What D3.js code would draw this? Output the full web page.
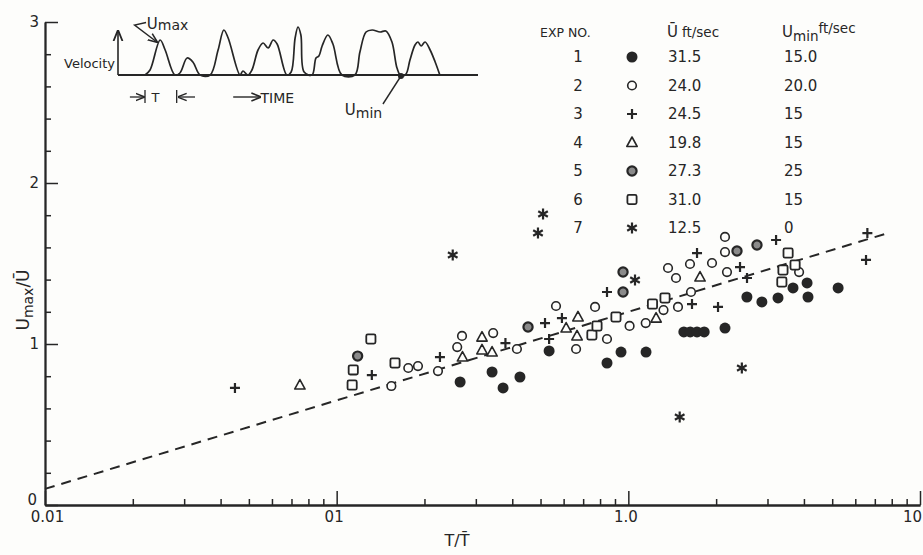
<!DOCTYPE html>
<html lang="en">
<head>
<meta charset="utf-8">
<title>Umax / U against T / T</title>
<script src="https://d3js.org/d3.v7.min.js"></script>
<style>
body { margin: 0; background: #fdfdfb; }
svg { display: block; }
text { font-family: "DejaVu Sans", sans-serif; fill: #262626; }
</style>
</head>
<body>
<div id="plot"></div>
<script>
var width = 923, height = 555;
var ink = "#262626";

// measured points, [T/T, Umax/U] for each experiment
var exp1 = [[0.265,0.764],[0.341,0.826],[0.372,0.727],[0.425,0.795],[0.535,0.957],[0.845,0.882],
  [0.944,0.950],[1.15,0.950],[1.55,1.075],[1.63,1.075],[1.72,1.075],[1.82,1.075],[2.145,1.099],
  [2.55,1.292],[2.87,1.261],[3.26,1.286],[3.67,1.348],[4.10,1.379],[4.13,1.292],[5.24,1.348]];
var exp2 = [[0.154,0.739],[0.176,0.851],[0.190,0.863],[0.2225,0.832],[0.259,0.981],[0.269,1.050],
  [0.344,1.068],[0.415,0.969],[0.565,1.236],[0.662,0.969],[0.769,1.230],[0.845,1.031],[1.01,1.112],
  [1.147,1.130],[1.32,1.211],[1.48,1.230],[1.64,1.323],[1.368,1.472],[1.457,1.410],[1.627,1.497],
  [1.936,1.503],[2.179,1.447],[2.145,1.665],[2.145,1.571],[3.85,1.447]];
var exp3 = [[0.0448,0.727],[0.132,0.807],[0.226,0.919],[0.379,1.006],[0.518,1.130],[0.535,1.031],
  [0.592,1.161],[0.845,1.323],[1.653,1.248],[2.03,1.230],[1.72,1.565],[2.415,1.478],[2.552,1.410],
  [3.21,1.646],[6.6,1.689],[6.53,1.522]];
var exp4 = [[0.0748,0.745],[0.27,0.919],[0.315,1.043],[0.315,0.963],[0.341,0.950],[0.612,1.099],
  [0.672,1.168],[0.667,1.050],[1.245,1.161],[1.761,1.416]];
var exp5 = [[0.118,0.925],[0.453,1.106],[0.959,1.447],[0.959,1.323],[2.358,1.578],[2.761,1.615]];
var exp6 = [[0.113,0.745],[0.114,0.839],[0.131,1.031],[0.1585,0.882],[0.75,1.056],[0.781,1.112],
  [0.907,1.168],[1.21,1.248],[1.336,1.286],[3.36,1.385],[3.39,1.460],[3.73,1.491],[3.53,1.565]];
var exp7 = [[0.25,1.553],[0.49,1.689],[0.51,1.807],[1.054,1.398],[2.45,0.851],[1.50,0.547]];
var series = [exp1, exp2, exp3, exp4, exp5, exp6, exp7];

// fitted dashed line
var fitX = [0.01, 7.6];
var fitY = [0.10, 1.684];

// legend table
var expNo = [1, 2, 3, 4, 5, 6, 7];
var uBar = ["31.5", "24.0", "24.5", "19.8", "27.3", "31.0", "12.5"];
var uMin = ["15.0", "20.0", "15", "15", "25", "15", "0"];

// axes
var xMajor = [0.01, 0.1, 1, 10];
var xLabels = ["0.01", "01", "1.0", "10"];
var yMajor = [0, 1, 2, 3];
var yLabels = ["0", "1", "2", "3"];

// sketch of the velocity record in the inset (time, velocity)
var waveT = [7.5,8.9,11.7,13.1,15.8,17.2,19.2,20.8,22.8,25.6,27.8,29.4,30.6,33.9,34.7,36.1,37.2,38.9,
  40.3,41.7,43.1,44.2,46.9,48.1,49.2,50,50.8,51.7,53.9,55,55.8,56.7,58.3,59.7,62.2,65.8,67.2,68.9,
  70.6,72.8,74.4,76.1,77.5,78.6,80,81.1,82.5,83.3,84.2,85.3,86.7,88.1,89.4];
var waveV = [0,0.1,0.7,0.5,0,0.04,0.34,0.26,0,0,0.5,0.9,0.74,0,0.08,0,0.1,0.5,
  0.64,0.54,0.7,0.62,0,0.06,0.74,0.96,0.8,0.06,0,0.34,0.38,0.58,0.8,0.62,0,0,0.46,0.86,
  0.9,0.86,0.88,0.66,0.14,-0.02,0.02,0.3,0.6,0.66,0.58,0.66,0.5,0.26,0];

var svg = d3.select("#plot").append("svg")
  .attr("width", width).attr("height", height)
  .style("background", "#fdfdfb");

var x = d3.scaleLog().domain([0.01, 10]).range([45, 920]);
var y = d3.scaleLinear().domain([0, 3]).range([505, 22]);

var defs = svg.append("defs");
defs.append("marker").attr("id", "arr")
  .attr("viewBox", "0 0 10 10").attr("refX", 9).attr("refY", 5)
  .attr("markerWidth", 7).attr("markerHeight", 7).attr("orient", "auto")
  .append("path").attr("d", "M0,1L10,5L0,9").attr("fill", "none")
  .attr("stroke", ink).attr("stroke-width", 1.6);

// x axis
var xMinor = [];
[0.01, 0.1, 1].forEach(function(d) {
  for (var k = 2; k <= 9; k++) xMinor.push(d * k);
});
var gx1 = svg.append("g").attr("transform", "translate(0,505)")
  .call(d3.axisBottom(x).tickValues(xMinor).tickSize(-6).tickSizeOuter(0).tickFormat(""));
var gx2 = svg.append("g").attr("transform", "translate(0,505)")
  .call(d3.axisBottom(x).tickValues(xMajor).tickSize(-14).tickSizeOuter(0).tickPadding(6)
    .tickFormat(function(d, i) { return xLabels[i]; }));
gx2.selectAll("text").attr("font-size", 15)
  .attr("dx", function(d, i) { return i == 0 ? 2 : (i == xMajor.length - 1 ? -8 : -3); });

// y axis
var yMinor = d3.range(1, 15).map(function(i) { return i * 0.2; })
  .filter(function(d) { return Math.abs(d - Math.round(d)) > 0.01; });
var gy1 = svg.append("g").attr("transform", "translate(45,0)")
  .call(d3.axisLeft(y).tickValues(yMinor).tickSize(-6).tickSizeOuter(0).tickFormat(""));
var gy2 = svg.append("g").attr("transform", "translate(45,0)")
  .call(d3.axisLeft(y).tickValues(yMajor).tickSize(-13).tickSizeOuter(0).tickPadding(6)
    .tickFormat(function(d, i) { return yLabels[i]; }));
gy2.selectAll("text").attr("font-size", 15)
  .attr("y", function(d) { return d == 0 ? -5 : 0; })
  .attr("dx", function(d) { return d == 0 ? -2 : 0; });

svg.selectAll(".domain").attr("stroke", ink).attr("stroke-width", 1.8);
svg.selectAll(".tick line").attr("stroke", ink).attr("stroke-width", 1.5);

// axis titles
var yt = svg.append("text").attr("transform", "translate(29,300) rotate(-90)")
  .attr("text-anchor", "middle").attr("font-size", 17);
yt.append("tspan").text("U");
yt.append("tspan").attr("dy", 4).attr("font-size", 14).text("max");
yt.append("tspan").attr("dy", -4).text("/\u016A");

svg.append("text").attr("x", 457).attr("y", 546).attr("text-anchor", "middle")
  .attr("font-size", 16).text("T/T\u0304");

// dashed fit
svg.append("path")
  .datum(d3.zip(fitX, fitY))
  .attr("d", d3.line().x(function(d) { return x(d[0]); }).y(function(d) { return y(d[1]); }))
  .attr("fill", "none").attr("stroke", ink).attr("stroke-width", 2)
  .attr("stroke-dasharray", "10,7");

// marker shapes per experiment
function drawSymbol(g, k) {
  if (k == 0) {
    g.append("circle").attr("r", 5.5).attr("fill", ink);
  } else if (k == 1) {
    g.append("circle").attr("r", 4.3).attr("fill", "#fdfdfb").attr("stroke", ink).attr("stroke-width", 1.6);
  } else if (k == 2) {
    g.append("path").attr("d", "M-5,0H5M0,-5V5").attr("stroke", ink).attr("stroke-width", 2.2);
  } else if (k == 3) {
    g.append("path").attr("d", "M0,-5.5L5.2,4L-5.2,4Z").attr("fill", "#fdfdfb")
      .attr("stroke", ink).attr("stroke-width", 1.6).attr("stroke-linejoin", "round");
  } else if (k == 4) {
    g.append("circle").attr("r", 4.6).attr("fill", "#8a8a8a").attr("stroke", ink).attr("stroke-width", 2.2);
  } else if (k == 5) {
    g.append("rect").attr("x", -4.6).attr("y", -4.6).attr("width", 9.2).attr("height", 9.2)
      .attr("rx", 1.5).attr("fill", "#fdfdfb").attr("stroke", ink).attr("stroke-width", 1.8);
  } else {
    g.append("path").attr("d", "M0,-5.5V5.5M-4.8,-2.75L4.8,2.75M-4.8,2.75L4.8,-2.75")
      .attr("stroke", ink).attr("stroke-width", 2.2);
  }
}

series.forEach(function(pts, k) {
  svg.append("g").selectAll("g")
    .data(pts)
    .enter().append("g")
    .attr("transform", function(d) { return "translate(" + x(d[0]) + "," + y(d[1]) + ")"; })
    .each(function() { drawSymbol(d3.select(this), k); });
});

// legend table
var row = d3.scalePoint().domain(expNo).range([57, 228]);
var lg = svg.append("g").attr("font-size", 15);
lg.append("text").attr("x", 540).attr("y", 37).attr("font-size", 12.5).text("EXP NO.");
var h2 = lg.append("text").attr("x", 667).attr("y", 37);
h2.append("tspan").text("\u016A");
h2.append("tspan").attr("dx", 4).attr("font-size", 13.5).text("ft/sec");
var h3 = lg.append("text").attr("x", 782).attr("y", 37);
h3.append("tspan").text("U");
h3.append("tspan").attr("dy", 4).attr("font-size", 13.5).text("min");
h3.append("tspan").attr("dy", -8).attr("font-size", 13.5).text("ft/sec");

expNo.forEach(function(n, i) {
  var yy = row(n);
  lg.append("text").attr("x", 578).attr("y", yy + 5).attr("text-anchor", "middle").text(n);
  drawSymbol(lg.append("g").attr("transform", "translate(632," + yy + ")"), i);
  lg.append("text").attr("x", 668).attr("y", yy + 5).text(uBar[i]);
  lg.append("text").attr("x", 784).attr("y", yy + 5).text(uMin[i]);
});

// inset sketch
var tx = d3.scaleLinear().domain([0, 100]).range([118, 478]);
var vy = d3.scaleLinear().domain([0, 1]).range([75, 25]);
var ins = svg.append("g");
ins.append("line").attr("x1", tx(0)).attr("x2", tx(100)).attr("y1", vy(0)).attr("y2", vy(0))
  .attr("stroke", ink).attr("stroke-width", 1.8);
ins.append("line").attr("x1", tx(0)).attr("x2", tx(0)).attr("y1", vy(0)).attr("y2", vy(0.88))
  .attr("stroke", ink).attr("stroke-width", 1.6).attr("marker-end", "url(#arr)");
ins.append("path").datum(d3.zip(waveT, waveV))
  .attr("d", d3.line().curve(d3.curveCatmullRom.alpha(0.5))
    .x(function(d) { return tx(d[0]); }).y(function(d) { return vy(d[1]); }))
  .attr("fill", "none").attr("stroke", ink).attr("stroke-width", 1.7);
ins.append("text").attr("x", tx(0) - 3).attr("y", vy(0.14)).attr("text-anchor", "end")
  .attr("font-size", 13).text("Velocity");

// Umax pointer
var um = ins.append("text").attr("x", tx(8)).attr("y", vy(0.93)).attr("font-size", 15);
um.append("tspan").text("U");
um.append("tspan").attr("dy", 1).attr("font-size", 14).text("max");
ins.append("path").attr("d", "M" + tx(7.8) + "," + vy(1.05) + "L" + tx(4.6) + "," + vy(1.0)
  + "L" + tx(10.8) + "," + vy(0.66))
  .attr("fill", "none").attr("stroke", ink).attr("stroke-width", 1.4).attr("marker-end", "url(#arr)");

// T marker
var tY = vy(-0.44);
ins.append("line").attr("x1", tx(3.3)).attr("x2", tx(7.2)).attr("y1", tY).attr("y2", tY)
  .attr("stroke", ink).attr("stroke-width", 1.3).attr("marker-end", "url(#arr)");
ins.append("line").attr("x1", tx(7.5)).attr("x2", tx(7.5)).attr("y1", tY - 7).attr("y2", tY + 6)
  .attr("stroke", ink).attr("stroke-width", 1.3);
ins.append("text").attr("x", tx(9.3)).attr("y", tY + 5).attr("font-size", 13).text("T");
ins.append("line").attr("x1", tx(16.3)).attr("x2", tx(16.3)).attr("y1", tY - 7).attr("y2", tY + 6)
  .attr("stroke", ink).attr("stroke-width", 1.3);
ins.append("line").attr("x1", tx(21.4)).attr("x2", tx(16.8)).attr("y1", tY).attr("y2", tY)
  .attr("stroke", ink).attr("stroke-width", 1.3).attr("marker-end", "url(#arr)");
ins.append("line").attr("x1", tx(32)).attr("x2", tx(39.5)).attr("y1", tY).attr("y2", tY)
  .attr("stroke", ink).attr("stroke-width", 1.4).attr("marker-end", "url(#arr)");
ins.append("text").attr("x", tx(39.6)).attr("y", tY + 6).attr("font-size", 14).text("TIME");

// Umin pointer
ins.append("circle").attr("cx", tx(78.6)).attr("cy", vy(-0.02)).attr("r", 3).attr("fill", ink);
ins.append("line").attr("x1", tx(78.6)).attr("y1", vy(-0.02)).attr("x2", tx(73.6)).attr("y2", vy(-0.58))
  .attr("stroke", ink).attr("stroke-width", 1.4);
var un = ins.append("text").attr("x", tx(63)).attr("y", vy(-0.8)).attr("font-size", 15);
un.append("tspan").text("U");
un.append("tspan").attr("dy", 3).attr("font-size", 14).text("min");
</script>
</body>
</html>
